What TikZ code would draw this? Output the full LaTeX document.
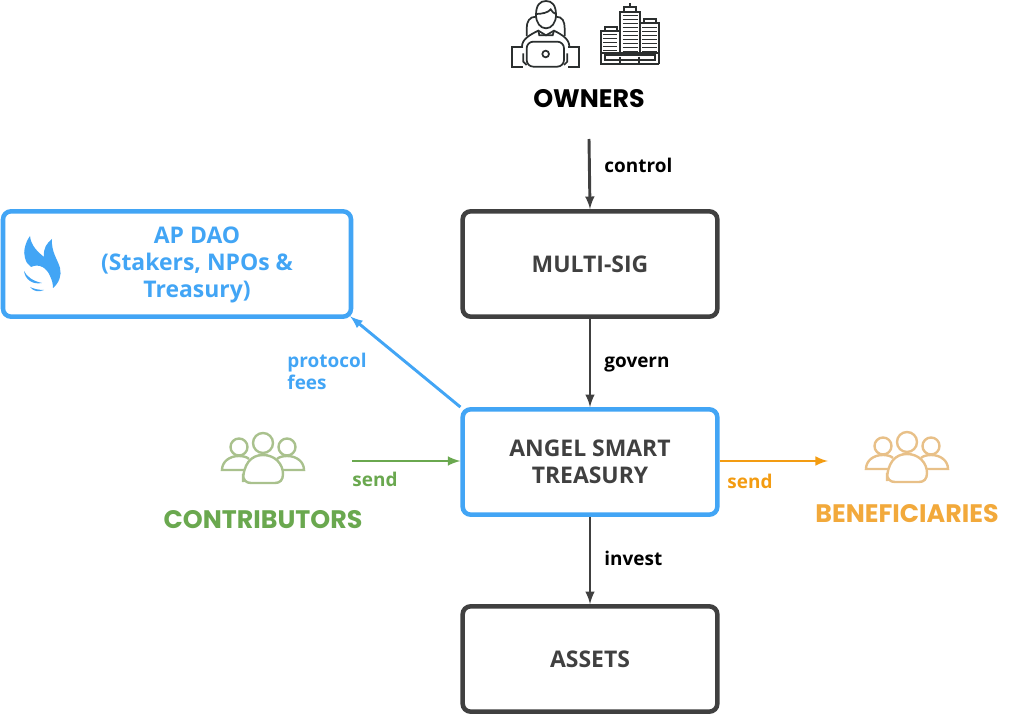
\documentclass[tikz,border=0pt]{standalone}
\usepackage{fontspec}
\setmainfont{Open Sans}
\newfontfamily\headfont{Poppins}
\usetikzlibrary{arrows}
\definecolor{boxgrey}{HTML}{404040}
\definecolor{daoblue}{HTML}{42A5F5}
\definecolor{sendgreen}{HTML}{6AA84F}
\definecolor{sendorange}{HTML}{F39C12}
\definecolor{headorange}{HTML}{F2A93B}
\definecolor{icongreen}{HTML}{A9C18D}
\definecolor{iconorange}{HTML}{E8C088}
\definecolor{iconblack}{HTML}{2B2F2F}
\newcommand{\peopleicon}[3]{
	\begin{scope}[shift={(#1,#2)},draw=#3,line width=2.4*0.75pt]
		\draw (0,-17) circle (10);
		\draw (-24,-13) circle (8.5);
		\draw (24,-13) circle (8.5);
		\draw (-20,22) .. controls (-20,4) and (-12,-5) .. (0,-5) .. controls (12,-5) and (20,4) .. (20,14) .. controls (20,20) and (17,23) .. (12,23) -- (-12,23) .. controls (-17,23) and (-20,20) .. (-20,14) -- cycle;
		\draw (-19,10) -- (-41,10) .. controls (-41,2) and (-34,-4) .. (-24,-4) .. controls (-20,-4) and (-16,-3) .. (-14,-1);
		\draw (19,10) -- (41,10) .. controls (41,2) and (34,-4) .. (24,-4) .. controls (20,-4) and (16,-3) .. (14,-1);
	\end{scope}
}
\begin{document}
\begin{tikzpicture}[>=latex,x=0.75pt,y=-0.75pt]
	\tikzstyle{flowbox}=[draw=boxgrey,line width=3.4pt,rounded corners=6pt,minimum width=191pt,minimum height=79pt,align=center,text=boxgrey,font=\fontsize{17.2}{20}\selectfont\bfseries]
	\tikzstyle{flow}=[->,line width=2.2pt,boxgrey]
	\tikzstyle{flowlabel}=[font=\fontsize{14.2}{16.4}\selectfont\bfseries,align=left,anchor=west,inner sep=0pt]
	\tikzstyle{heading}=[font=\fontsize{19}{22}\headfont\bfseries]

	\useasboundingbox (0,0) rectangle (1035,716);

	\node (multisig) [flowbox] at (590,264) {MULTI-SIG};
	\node (treasury) [flowbox,draw=daoblue] at (590,462) {ANGEL SMART\\TREASURY};
	\node (assets) [flowbox] at (590,659) {ASSETS};
	\node (dao) [flowbox,draw=daoblue,text=daoblue,minimum width=261pt] at (177,264) {};
	\node (daotext) [align=center,text=daoblue,font=\fontsize{17.2}{20}\selectfont\bfseries] at (197,265) {AP DAO\\(Stakers, NPOs \&\\Treasury)};

	\node (owners) [heading,text=black] at (589,99) {OWNERS};
	\node (contributors) [heading,text=sendgreen] at (263,520) {CONTRIBUTORS};
	\node (beneficiaries) [heading,text=headorange] at (907,514) {BENEFICIARIES};

	\coordinate (ownersout) at (589,139);
	\coordinate (contribout) at (352,461);
	\coordinate (benefin) at (828,461);

	\draw [flow] (ownersout) -- (multisig.north) node[flowlabel,text=black] at (603,165) {control};
	\draw [flow] (multisig.south) -- (treasury.north) node[flowlabel,text=black] at (603,365) {govern};
	\draw [flow] (treasury.south) -- (assets.north) node[flowlabel,text=black] at (603,558) {invest};
	\draw [flow,daoblue,shorten >=-3pt] (treasury.north west) -- (dao.south east) node[flowlabel,text=daoblue] at (286,371) {protocol\\fees};
	\draw [flow,sendgreen] (contribout) -- (treasury.west |- contribout) node[flowlabel,text=sendgreen] at (351,479) {send};
	\draw [flow,sendorange] (treasury.east |- benefin) -- (benefin) node[flowlabel,text=sendorange] at (726,481) {send};

	\peopleicon{263}{460}{icongreen}
	\peopleicon{907}{459}{iconorange}

	\fill [daoblue] (30,236) .. controls (25,243) and (23,252) .. (25,258) .. controls (26,262) and (28,265) .. (31,267) .. controls (39,263) and (47,268) .. (50,276) .. controls (52,280) and (53,284) .. (53,288) .. controls (59,283) and (62,275) .. (60,268) .. controls (58,260) and (51,252) .. (52,239) .. controls (47,243) and (43,248) .. (44,257) .. controls (38,252) and (31,246) .. (30,236) -- cycle;
	\fill [daoblue] (24,271) .. controls (25,279) and (32,285) .. (42,283) .. controls (33,281) and (27,277) .. (24,271) -- cycle;
	\fill [daoblue] (30,287) .. controls (34,292) and (39,292) .. (44,290) .. controls (39,290) and (34,289) .. (30,287) -- cycle;

	\begin{scope}[shift={(490,0)},x=0.25pt,y=-0.25pt,draw=iconblack,line width=1.3pt]
		\draw (138,45) .. controls (138,15) and (150,3) .. (168,3) .. controls (186,3) and (198,15) .. (198,45) .. controls (198,68) and (185,85) .. (168,85) .. controls (151,85) and (138,68) .. (138,45) -- cycle;
		\draw (138,42) .. controls (155,42) and (175,38) .. (182,28) .. controls (186,36) and (192,40) .. (198,42);
		\draw (138,50) .. controls (118,50) and (110,65) .. (110,85) -- (110,108);
		\draw (198,50) .. controls (218,50) and (224,65) .. (224,85) -- (224,108);
		\draw (96,140) .. controls (96,118) and (118,105) .. (145,92) -- (168,106) -- (192,92) .. controls (218,105) and (238,118) .. (238,140);
		\draw (145,92) -- (148,106) -- (168,106) -- (188,106) -- (192,92);
		\draw [rounded corners=5pt] (110,200) -- (110,125) -- (222,125) -- (222,200) -- cycle;
		\draw (167,162) circle (10);
		\draw (100,142) -- (65,142) -- (65,202) -- (100,202);
		\draw (235,142) -- (268,142) -- (268,202) -- (235,202);
		\draw (100,160) -- (100,185) -- (110,195);
		\draw (232,160) -- (232,185) -- (222,195);

		\draw (333,160) -- (333,92) -- (388,92);
		\draw (345,92) -- (345,80) -- (380,80) -- (380,92);
		\draw (390,160) -- (390,35) -- (450,35) -- (450,160);
		\draw (403,35) -- (403,22) -- (438,22) -- (438,35);
		\draw (420,22) -- (420,10);
		\draw (450,70) -- (507,70) -- (507,192);
		\draw (462,70) -- (462,58) -- (497,58) -- (497,70);
		\draw (333,160) -- (333,192) -- (507,192);
		\draw (333,160) -- (507,160);
		\draw (345,165) rectangle (495,180);
		\draw (390,170) -- (390,190);
		\draw (448,170) -- (448,190);
		\foreach \winy in {104,116,128,140,152}
		{
			\draw [line width=0.9pt] (340,\winy) -- (382,\winy);
		}
		\foreach \winy in {47,59,71,83,95,107,119,131,143,155}
		{
			\draw [line width=0.9pt] (398,\winy) -- (443,\winy);
		}
		\foreach \winy in {82,94,106,118,130,142,154}
		{
			\draw [line width=0.9pt] (457,\winy) -- (500,\winy);
		}
	\end{scope}
\end{tikzpicture}
\end{document}
